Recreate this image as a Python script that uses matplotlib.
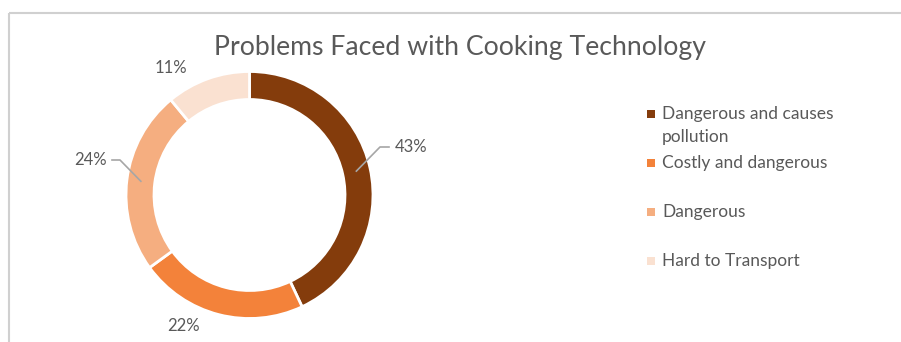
import numpy as np
import matplotlib.pyplot as plt
from matplotlib.patches import Rectangle

plt.rcParams['font.family'] = ['Lato', 'DejaVu Sans']

W, H = 901, 342
TEXT = '#595959'

labels = ['Dangerous and causes\npollution', 'Costly and dangerous', 'Dangerous', 'Hard to Transport']
shares = [43, 22, 24, 11]
colors = ['#843C0C', '#F3823A', '#F5AE80', '#FAE1D1']

# donut geometry in pixel units (y measured from the bottom)
cx, cy = 249.5, H - 195
r_out, ring = 123.5, 28

fig = plt.figure(figsize=(W / 100, H / 100), dpi=100)
ax = fig.add_axes([0, 0, 1, 1])
ax.axis('off')

wedges, _ = ax.pie(shares, colors=colors, startangle=90, counterclock=False,
                   center=(cx, cy), radius=r_out,
                   wedgeprops=dict(width=ring, edgecolor='white', linewidth=2))
ax.set_xlim(0, W)
ax.set_ylim(0, H)
ax.set_aspect('equal')

# chart frame
ax.plot([9, W], [H - 13, H - 13], color='#D0D0D0', lw=1.5, solid_capstyle='butt')
ax.plot([9, 9], [H - 13, 0], color='#D0D0D0', lw=1.5, solid_capstyle='butt')

ax.text(460, H - 47, 'Problems Faced with Cooking Technology', ha='center', va='center',
        fontsize=19.2, color=TEXT)

# data labels: (text position, elbow of leader or None)
label_pos = [((395, H - 147), (380, H - 147)),
             ((183, H - 326), None),
             ((107, H - 160), (120, H - 160)),
             ((171, H - 68), None)]
for w, val, (tpos, elbow) in zip(wedges, shares, label_pos):
    if elbow is None:
        ax.text(*tpos, f'{val}%', ha='center', va='center', fontsize=12, color=TEXT)
        continue
    mid = np.deg2rad((w.theta1 + w.theta2) / 2)
    r_mid = r_out - ring / 2
    start = (cx + r_mid * np.cos(mid), cy + r_mid * np.sin(mid))
    right = tpos[0] > cx
    end_x = tpos[0] - 6 if right else tpos[0] + 5
    ax.plot([start[0], elbow[0], end_x], [start[1], elbow[1], elbow[1]],
            color='#A6A6A6', lw=1.2)
    ax.text(*tpos, f'{val}%', ha='left' if right else 'right', va='center',
            fontsize=12, color=TEXT)

# legend
leg_y = [114, 163, 212, 261]
for lab, col, y in zip(labels, colors, leg_y):
    ax.add_patch(Rectangle((647, H - y - 4), 8, 8, color=col, lw=0))
    for i, line in enumerate(lab.split('\n')):
        ax.text(662, H - y - 23 * i, line, ha='left', va='center',
                fontsize=12.5, color=TEXT)

fig.savefig('out.png', dpi=100)
